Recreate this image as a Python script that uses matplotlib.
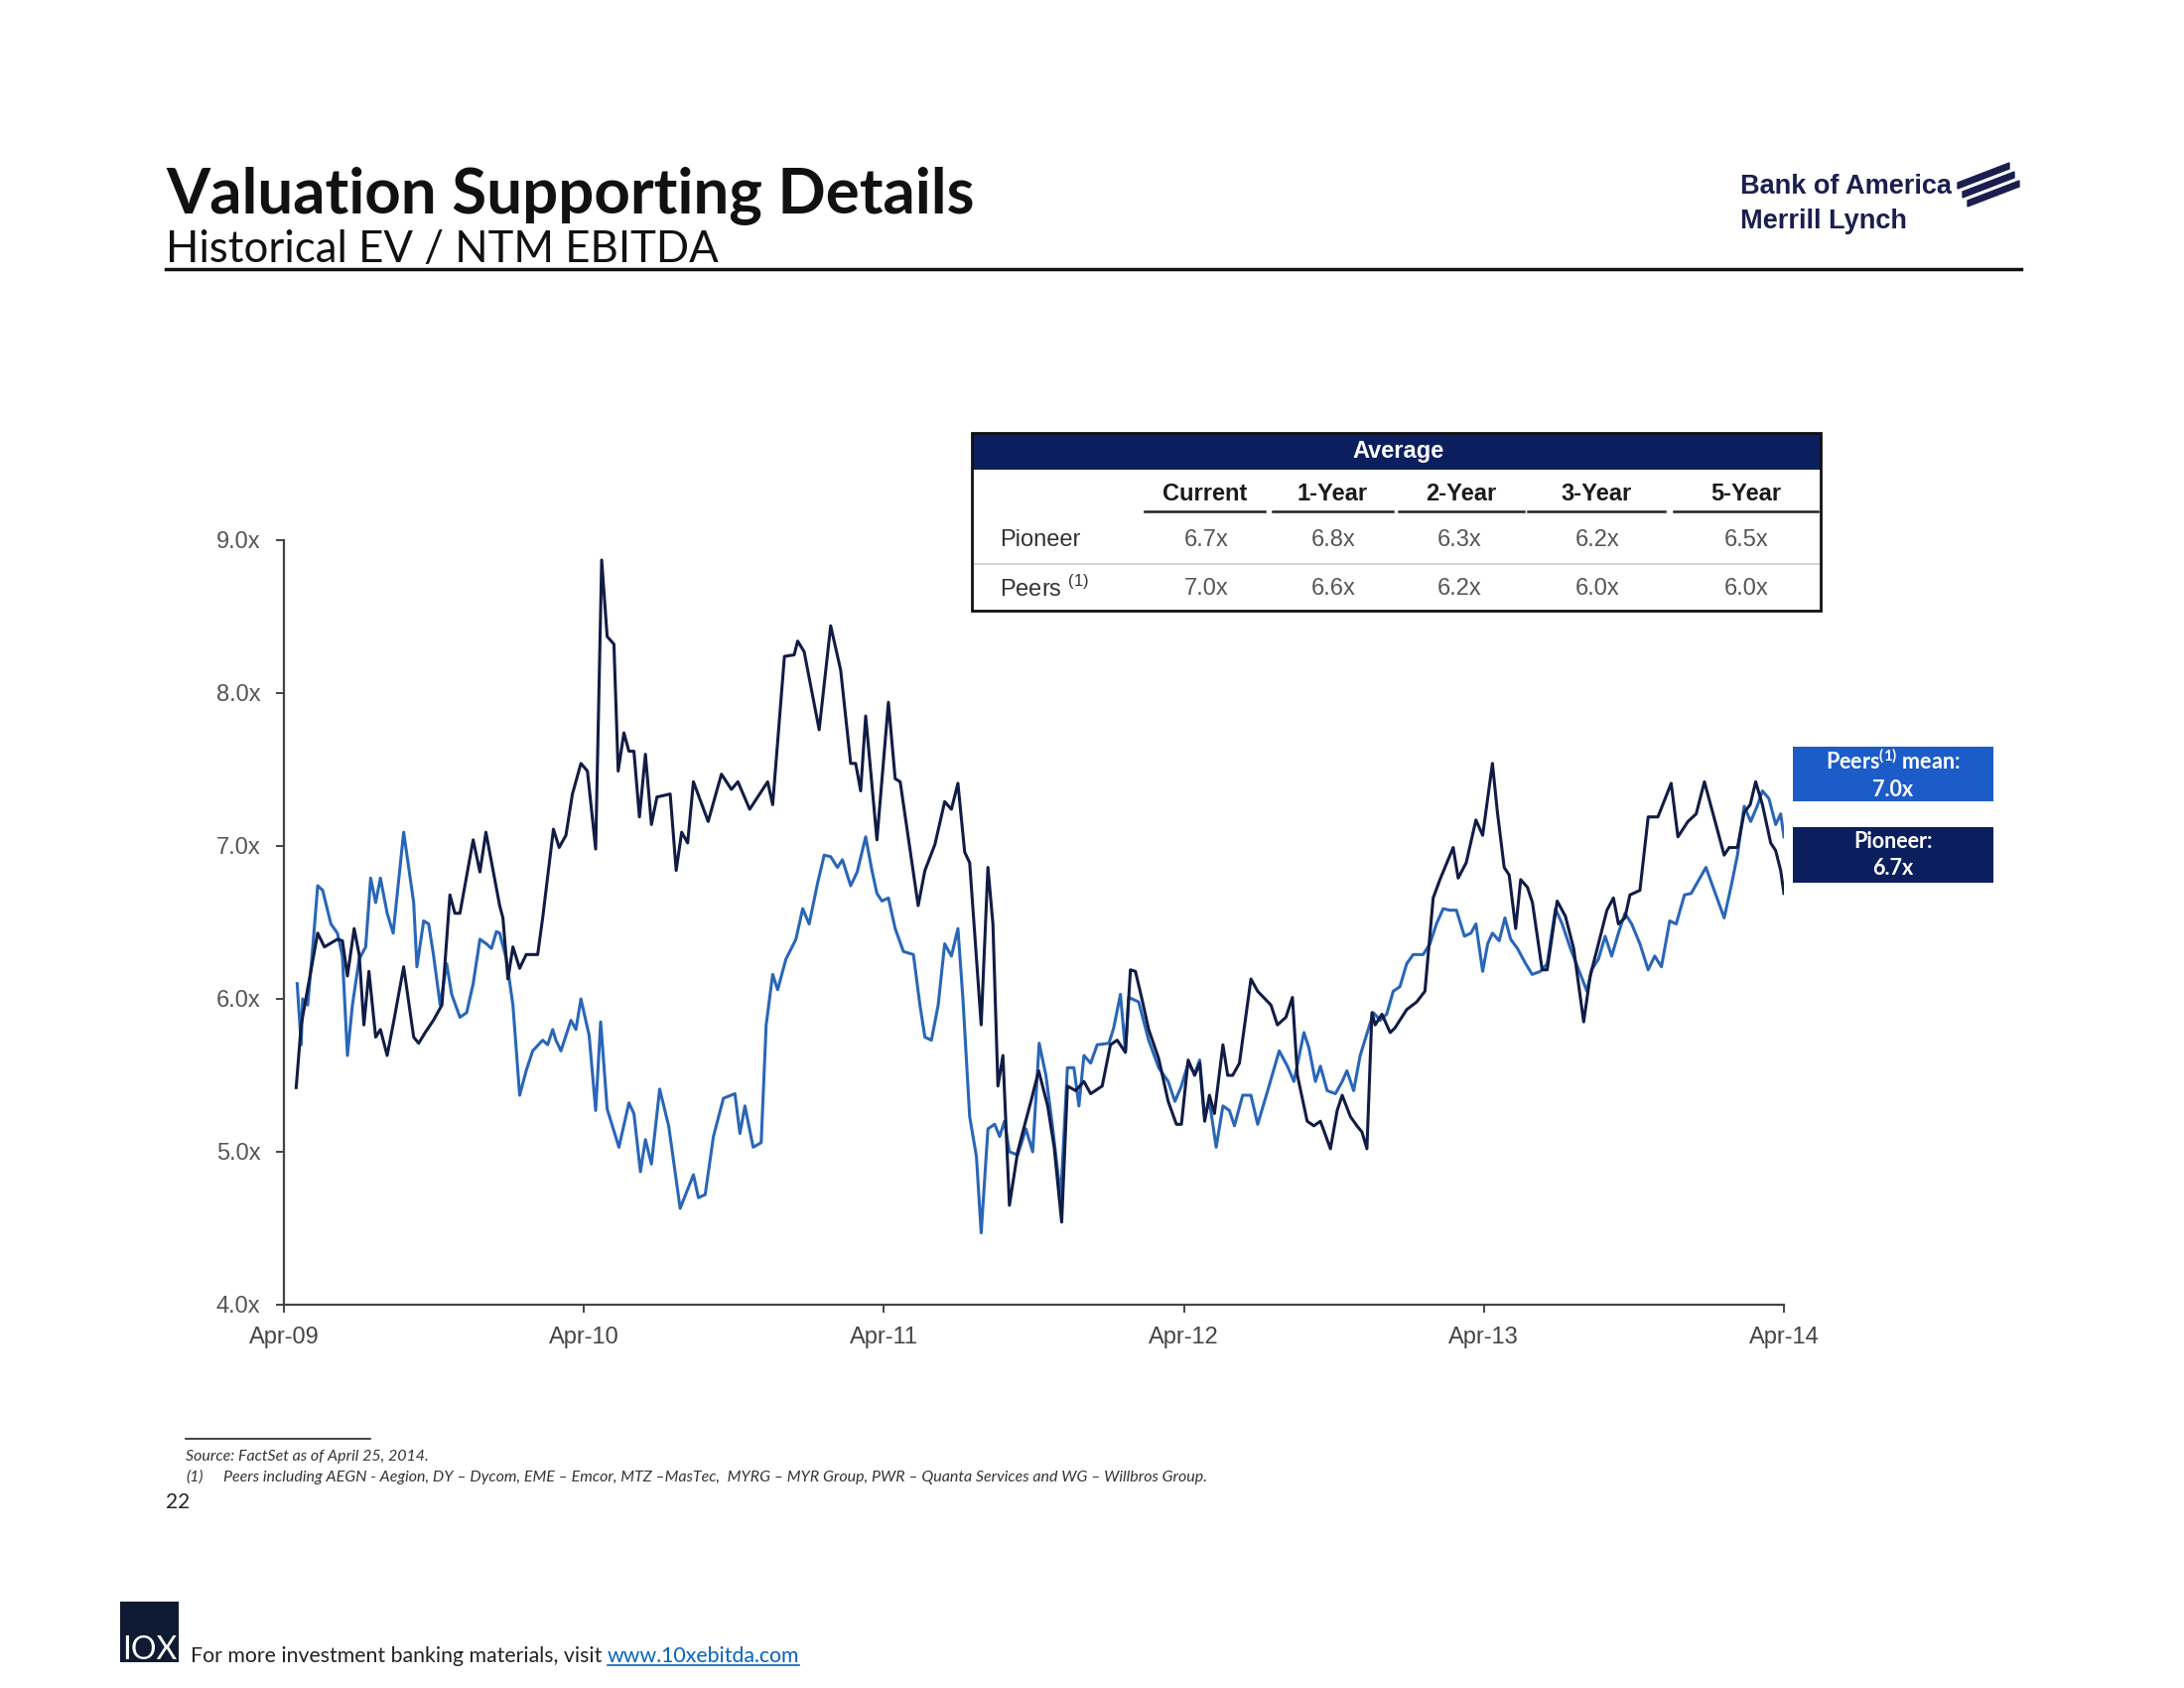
import matplotlib
matplotlib.use('Agg')
import matplotlib.pyplot as plt
from matplotlib.patches import Rectangle, Polygon
from matplotlib.lines import Line2D
from matplotlib.ticker import FormatStrFormatter

W, H = 2200, 1700

# months after Apr-09 / EV to NTM EBITDA multiple
pioneer_m = [0.49, 0.69, 1.35, 1.62, 2.14, 2.34, 2.54, 2.81, 3.01, 3.20, 3.40, 3.67, 3.86, 4.13, 4.40,
             4.79, 5.19, 5.39, 5.65, 5.98, 6.32, 6.64, 6.84, 7.04, 7.57, 7.84, 8.08, 8.63, 8.76, 8.96,
             9.16, 9.43, 9.69, 10.15, 10.35, 10.78, 11.01, 11.28, 11.54, 11.88,
             12.14, 12.47, 12.71, 12.93, 13.20, 13.37, 13.60, 13.80, 14.00, 14.22, 14.46, 14.70, 14.92,
             15.45, 15.69, 15.91, 16.15, 16.38, 16.97, 17.50, 17.90, 18.16, 18.63, 19.35, 19.55, 20.02,
             20.41, 20.55, 20.81, 21.41, 21.87, 22.27, 22.67, 22.87, 23.07, 23.27,
             23.72, 24.18, 24.45, 24.65, 25.37, 25.64, 26.04, 26.43, 26.70, 26.96, 27.23, 27.43, 27.89,
             28.16, 28.36, 28.56, 28.76, 29.02, 29.35, 29.62, 29.88, 30.19, 30.55, 30.81, 31.11, 31.34,
             31.67, 32.00, 32.27, 32.73, 33.06, 33.33, 33.66, 33.86, 34.06, 34.32, 34.59, 34.99,
             35.37, 35.70, 35.90, 36.17, 36.43, 36.63, 36.83, 37.02, 37.22, 37.56, 37.75, 37.95, 38.22,
             38.68, 38.95, 39.48, 39.74, 40.08, 40.34, 40.54, 40.93, 41.20, 41.46, 41.86, 42.13, 42.33,
             42.66, 42.92, 43.12, 43.32, 43.52, 43.65, 43.92, 44.25, 44.44, 44.91, 45.31, 45.64, 45.97,
             46.24, 46.77, 46.97,
             47.29, 47.68, 47.95, 48.34, 48.54, 48.81, 49.01, 49.27, 49.47, 49.74, 49.94, 50.33, 50.53,
             50.93, 51.26, 51.59, 51.99, 52.25, 52.58, 52.92, 53.18, 53.38, 53.64, 53.84, 54.24, 54.57,
             54.96, 55.49, 55.76, 56.16, 56.49, 56.82, 57.15, 57.61, 57.81, 58.14, 58.41, 58.65, 58.87,
             59.14, 59.47, 59.67, 59.87, 60.00]
pioneer_v = [5.42, 5.83, 6.43, 6.34, 6.39, 6.38, 6.15, 6.46, 6.29, 5.83, 6.18, 5.75, 5.80, 5.63, 5.86,
             6.21, 5.75, 5.71, 5.78, 5.86, 5.96, 6.68, 6.56, 6.56, 7.04, 6.83, 7.09, 6.61, 6.53, 6.13,
             6.34, 6.20, 6.29, 6.29, 6.53, 7.11, 6.99, 7.07, 7.34, 7.54,
             7.49, 6.98, 8.87, 8.37, 8.32, 7.49, 7.74, 7.62, 7.62, 7.19, 7.60, 7.14, 7.32,
             7.34, 6.84, 7.09, 7.02, 7.42, 7.16, 7.47, 7.37, 7.42, 7.24, 7.42, 7.27, 8.24,
             8.25, 8.34, 8.27, 7.76, 8.44, 8.15, 7.54, 7.54, 7.36, 7.85,
             7.04, 7.94, 7.44, 7.42, 6.61, 6.84, 7.01, 7.29, 7.24, 7.41, 6.96, 6.89, 5.83,
             6.86, 6.49, 5.43, 5.63, 4.65, 5.00, 5.17, 5.33, 5.53, 5.30, 5.03, 4.54, 5.43,
             5.40, 5.46, 5.38, 5.43, 5.70, 5.73, 5.65, 6.19, 6.18, 6.00, 5.80, 5.61,
             5.33, 5.18, 5.18, 5.60, 5.50, 5.58, 5.20, 5.37, 5.25, 5.70, 5.50, 5.50, 5.58,
             6.13, 6.05, 5.96, 5.83, 5.88, 6.01, 5.50, 5.20, 5.17, 5.20, 5.02, 5.27, 5.37,
             5.23, 5.17, 5.13, 5.02, 5.91, 5.83, 5.90, 5.78, 5.81, 5.93, 5.98, 6.05, 6.66,
             6.78, 6.99, 6.79,
             6.89, 7.17, 7.07, 7.54, 7.22, 6.86, 6.81, 6.46, 6.78, 6.73, 6.63, 6.19, 6.19,
             6.64, 6.54, 6.33, 5.85, 6.15, 6.36, 6.58, 6.66, 6.49, 6.53, 6.68, 6.71, 7.19,
             7.19, 7.41, 7.06, 7.16, 7.21, 7.42, 7.22, 6.94, 6.99, 6.99, 7.22, 7.27, 7.42,
             7.27, 7.02, 6.97, 6.84, 6.69]

peers_m = [0.53, 0.69, 0.75, 0.95, 1.15, 1.35, 1.55, 1.88, 2.14, 2.34, 2.54, 2.74, 3.01, 3.27, 3.47,
           3.67, 3.86, 4.13, 4.37, 4.79, 5.19, 5.32, 5.59, 5.79, 5.98, 6.25, 6.51, 6.71, 7.04, 7.31,
           7.57, 7.84, 8.10, 8.30, 8.50, 8.63, 8.90, 9.16, 9.43, 9.69, 9.95, 10.35, 10.55, 10.75,
           10.88, 11.08, 11.28, 11.48, 11.68, 11.88,
           12.21, 12.47, 12.67, 12.93, 13.40, 13.80, 14.00, 14.26, 14.46, 14.70, 15.03, 15.39, 15.85,
           16.38, 16.58, 16.85, 17.18, 17.58, 18.04, 18.24, 18.44, 18.77, 19.09, 19.29, 19.55, 19.75,
           20.08, 20.48, 20.75, 21.01, 21.35, 21.61, 21.87, 22.14, 22.34, 22.67, 22.93, 23.27,
           23.52, 23.72, 23.92, 24.18, 24.45, 24.78, 25.18, 25.44, 25.64, 25.90, 26.17, 26.43, 26.70,
           26.96, 27.16, 27.43, 27.70, 27.89, 28.16, 28.43, 28.63, 28.82, 29.02, 29.35, 29.68, 29.95,
           30.21, 30.48, 30.74, 31.07, 31.34, 31.60, 31.80, 32.00, 32.27, 32.53, 33.00, 33.19, 33.46,
           33.66, 33.79, 34.19, 34.59, 34.99,
           35.37, 35.64, 35.90, 36.17, 36.43, 36.63, 36.83, 37.02, 37.29, 37.56, 37.82, 38.02, 38.35,
           38.68, 38.95, 39.35, 39.81, 40.14, 40.40, 40.80, 41.00, 41.26, 41.46, 41.73, 42.06, 42.33,
           42.52, 42.79, 43.05, 43.39, 43.58, 43.85, 44.11, 44.37, 44.64, 44.91, 45.17, 45.57, 45.84,
           46.10, 46.37, 46.63, 46.90,
           47.22, 47.48, 47.68, 47.95, 48.15, 48.34, 48.61, 48.84, 49.07, 49.34, 49.67, 49.93, 50.26,
           50.53, 50.86, 51.13, 51.46, 51.79, 52.12, 52.31, 52.58, 52.85, 53.11, 53.38, 53.64, 53.91,
           54.24, 54.57, 54.83, 55.10, 55.43, 55.69, 56.02, 56.29, 56.88, 57.28, 57.61, 57.88, 58.14,
           58.41, 58.67, 58.93, 59.14, 59.40, 59.67, 59.87, 60.00]
peers_v = [6.10, 5.70, 6.00, 5.96, 6.33, 6.74, 6.71, 6.49, 6.43, 6.28, 5.63, 5.96, 6.26, 6.34, 6.79,
           6.63, 6.79, 6.56, 6.43, 7.09, 6.63, 6.21, 6.51, 6.49, 6.29, 5.96, 6.23, 6.03, 5.88, 5.91,
           6.10, 6.39, 6.36, 6.33, 6.44, 6.43, 6.26, 5.96, 5.37, 5.53, 5.66, 5.73, 5.70, 5.80,
           5.73, 5.66, 5.76, 5.86, 5.80, 6.00,
           5.76, 5.27, 5.85, 5.28, 5.03, 5.32, 5.25, 4.87, 5.08, 4.92, 5.41, 5.17, 4.63,
           4.85, 4.70, 4.72, 5.10, 5.35, 5.38, 5.12, 5.30, 5.03, 5.06, 5.83, 6.16, 6.06,
           6.26, 6.39, 6.59, 6.49, 6.76, 6.94, 6.93, 6.86, 6.91, 6.74, 6.83, 7.06,
           6.84, 6.69, 6.64, 6.66, 6.46, 6.31, 6.29, 5.96, 5.75, 5.73, 5.96, 6.36, 6.28,
           6.46, 6.00, 5.23, 4.97, 4.47, 5.15, 5.18, 5.10, 5.20, 5.00, 4.98, 5.15, 5.00,
           5.71, 5.50, 5.17, 4.70, 5.55, 5.55, 5.30, 5.63, 5.58, 5.70, 5.71, 5.81, 6.03,
           5.66, 6.01, 5.98, 5.73, 5.55,
           5.46, 5.33, 5.43, 5.58, 5.51, 5.60, 5.23, 5.33, 5.03, 5.30, 5.27, 5.17, 5.37,
           5.37, 5.18, 5.40, 5.66, 5.56, 5.46, 5.78, 5.68, 5.46, 5.56, 5.40, 5.38, 5.46,
           5.53, 5.40, 5.63, 5.81, 5.91, 5.86, 5.90, 6.05, 6.08, 6.23, 6.29, 6.29, 6.36,
           6.49, 6.59, 6.58, 6.58,
           6.41, 6.43, 6.49, 6.18, 6.36, 6.43, 6.38, 6.53, 6.39, 6.33, 6.23, 6.16, 6.18,
           6.23, 6.59, 6.49, 6.33, 6.19, 6.05, 6.19, 6.26, 6.41, 6.28, 6.43, 6.56, 6.49,
           6.36, 6.19, 6.28, 6.21, 6.51, 6.49, 6.68, 6.69, 6.86, 6.68, 6.53, 6.73, 6.94,
           7.26, 7.16, 7.26, 7.36, 7.31, 7.14, 7.21, 7.06]

x_ticks = [0, 12, 24, 36, 48, 60]
x_labels = ['Apr-09', 'Apr-10', 'Apr-11', 'Apr-12', 'Apr-13', 'Apr-14']
y_ticks = [4, 5, 6, 7, 8, 9]

table_cols = ['Current', '1-Year', '2-Year', '3-Year', '5-Year']
pioneer_avg = [6.7, 6.8, 6.3, 6.2, 6.5]
peers_avg = [7.0, 6.6, 6.2, 6.0, 6.0]

NAVY = '#0b1f5e'
PIONEER_C = '#111c45'
PEERS_C = '#2966b8'
GREY = '#555555'


def fx(px):
    return px / W


def fy(py):
    return 1 - py / H


fig = plt.figure(figsize=(22, 17), dpi=100)

# ---- header
fig.text(fx(167), fy(214), 'Valuation Supporting Details', fontsize=45.8, fontweight='bold',
         family='Lato', color='#111111', va='baseline')
fig.text(fx(167), fy(264), 'Historical EV / NTM EBITDA', fontsize=31.5, family='Lato',
         color='#111111', va='baseline')
fig.add_artist(Line2D([fx(167), fx(2036)], [fy(271), fy(271)], color='#111111', lw=2.5))

# logo
narrow = ['Liberation Sans Narrow', 'Liberation Sans']
fig.text(fx(1753), fy(195), 'Bank of America', fontsize=19.5, fontweight='bold', family=narrow,
         color='#1b1f4f', va='baseline')
fig.text(fx(1753), fy(230), 'Merrill Lynch', fontsize=19.5, fontweight='bold', family=narrow,
         color='#1b1f4f', va='baseline')
for i in range(3):
    x0 = 1972 + i * 5
    y0 = 184 + i * 9
    pts = [(fx(x0), fy(y0)), (fx(x0 + 52), fy(y0 - 20)), (fx(x0 + 52), fy(y0 - 14)),
           (fx(x0), fy(y0 + 6))]
    fig.add_artist(Polygon(pts, closed=True, color='#1b1f4f', transform=fig.transFigure))

# ---- chart
ax = fig.add_axes([fx(286), fy(1314), fx(1797) - fx(286), (1314 - 544) / H])
ax.plot(peers_m, peers_v, color=PEERS_C, lw=2.2, zorder=2)
ax.plot(pioneer_m, pioneer_v, color=PIONEER_C, lw=2.2, zorder=3)
ax.set_xlim(0, 60)
ax.set_ylim(4, 9)
ax.set_xticks(x_ticks)
ax.set_xticklabels(x_labels)
ax.set_yticks(y_ticks)
ax.yaxis.set_major_formatter(FormatStrFormatter('%.1fx'))
for s in ['top', 'right']:
    ax.spines[s].set_visible(False)
for s in ['left', 'bottom']:
    ax.spines[s].set_color('#444444')
    ax.spines[s].set_linewidth(1.6)
ax.tick_params(axis='y', direction='out', length=6, width=1.4, color='#444444', pad=11,
               labelsize=17, labelcolor=GREY)
ax.tick_params(axis='x', direction='out', length=6, width=1.4, color='#444444', pad=10,
               labelsize=17, labelcolor='#444444')
for lab in ax.get_xticklabels() + ax.get_yticklabels():
    lab.set_family('Liberation Sans')

# ---- averages table
tl, tr, tt, tb = 979, 1834, 436, 615
fig.add_artist(Rectangle((fx(tl), fy(tb)), fx(tr) - fx(tl), (tb - tt) / H, fill=False,
                         ec='#111111', lw=2, transform=fig.transFigure, zorder=5))
fig.add_artist(Rectangle((fx(tl), fy(473)), fx(tr) - fx(tl), (473 - tt) / H, fc=NAVY,
                         ec='none', transform=fig.transFigure, zorder=4))
fig.text(fx(1409), fy(455), 'Average', fontsize=17, fontweight='bold', family=narrow,
         color='white', ha='center', va='center', zorder=6)
col_seg = [(1153, 1274), (1282, 1403), (1409, 1535), (1539, 1677), (1686, 1831)]
val_x = [1215, 1343, 1470, 1609, 1759]
for name, (a, b), vx, p, q in zip(table_cols, col_seg, val_x, pioneer_avg, peers_avg):
    fig.text(fx((a + b) / 2), fy(498), name, fontsize=17, fontweight='bold', family=narrow,
             color='#1a1a1a', ha='center', va='center')
    fig.add_artist(Line2D([fx(a), fx(b)], [fy(515), fy(515)], color='#222222', lw=1.8))
    fig.text(fx(vx), fy(544), f'{p:.1f}x', fontsize=17, family='Liberation Sans', color=GREY,
             ha='center', va='center')
    fig.text(fx(vx), fy(593), f'{q:.1f}x', fontsize=17, family='Liberation Sans', color=GREY,
             ha='center', va='center')
fig.add_artist(Line2D([fx(tl), fx(tr)], [fy(568), fy(568)], color='#cccccc', lw=1.2))
fig.text(fx(1007), fy(544), 'Pioneer', fontsize=17, family='Liberation Sans', color='#333333',
         va='center')
fig.text(fx(1007), fy(593), r'Peers $^{\mathregular{(1)}}$', fontsize=17, family='Liberation Sans',
         color='#333333', va='center')

# ---- current value call-outs
for top, bottom, colr, txt in [(752, 807, '#1c5cc8', 'Peers$^{\\mathregular{(1)}}$ mean:\n%.1fx' % peers_avg[0]),
                               (833, 889, NAVY, 'Pioneer:\n%.1fx' % pioneer_avg[0])]:
    fig.add_artist(Rectangle((fx(1806), fy(bottom)), fx(2008) - fx(1806), (bottom - top) / H,
                             fc=colr, ec='none', transform=fig.transFigure))
    fig.text(fx(1907), fy((top + bottom) / 2), txt, fontsize=15.5, fontweight='bold', family='Lato',
             color='white', ha='center', va='center', linespacing=1.35)

# ---- footnotes
fig.add_artist(Line2D([fx(187), fx(373)], [fy(1449), fy(1449)], color='#222222', lw=1.2))
fig.text(fx(187), fy(1471), 'Source: FactSet as of April 25, 2014.', fontsize=11.5, style='italic',
         family='Lato', color='#333333', va='baseline')
fig.text(fx(187), fy(1492), '(1)', fontsize=11.5, style='italic', family='Lato', color='#333333',
         va='baseline')
fig.text(fx(225), fy(1492), 'Peers including AEGN - Aegion, DY \u2013 Dycom, EME \u2013 Emcor, '
         'MTZ \u2013MasTec,  MYRG \u2013 MYR Group, PWR \u2013 Quanta Services and WG \u2013 Willbros Group.',
         fontsize=11.5, style='italic', family='Lato', color='#333333', va='baseline')
fig.text(fx(167), fy(1519), '22', fontsize=15, family='Lato', color='#222222', va='baseline')

# ---- footer
fig.add_artist(Rectangle((fx(121), fy(1674)), fx(180) - fx(121), (1674 - 1613) / H, fc='#0e1b33',
                         ec='none', transform=fig.transFigure))
fig.text(fx(151), fy(1671), 'IOX', fontsize=23, family='Lato', color='white',
         ha='center', va='baseline')
t1 = fig.text(fx(192), fy(1674), 'For more investment banking materials, visit ', fontsize=15.3,
              family='Lato', color='#222222', va='baseline')
fig.canvas.draw()
bb = t1.get_window_extent()
t2 = fig.text(bb.x1 / W, fy(1674), 'www.10xebitda.com', fontsize=15.3, family='Lato',
              color='#0563c1', va='baseline')
fig.canvas.draw()
bb2 = t2.get_window_extent()
fig.add_artist(Line2D([bb2.x0 / W, bb2.x1 / W], [fy(1677), fy(1677)], color='#0563c1', lw=1.2))

fig.savefig('out.png', dpi=100)
